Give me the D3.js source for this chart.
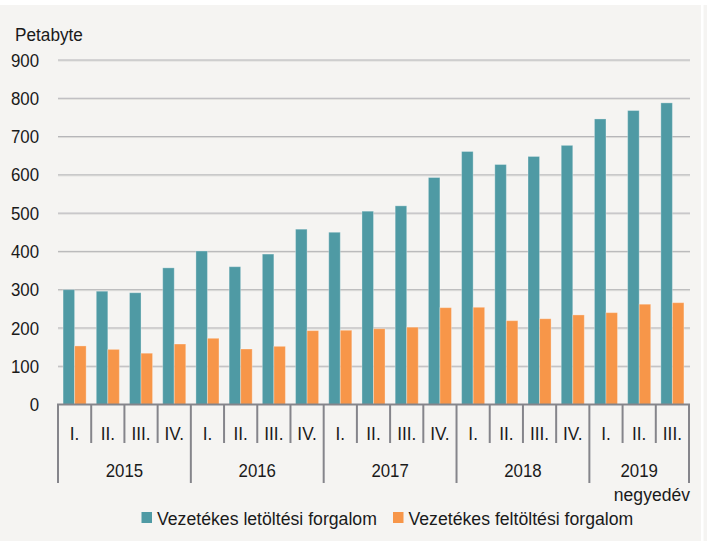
<!DOCTYPE html>
<html>
<head>
<meta charset="utf-8">
<script src="https://cdn.jsdelivr.net/npm/d3@7"></script>
<style>
  html, body { margin: 0; padding: 0; background: #fff; }
  svg { display: block; font-family: "Liberation Sans", Arial, sans-serif; }
</style>
</head>
<body>
<div id="chart"></div>
<script>
// data
var years = ['2015', '2016', '2017', '2018', '2019'];
var quarters = ['I.', 'II.', 'III.', 'IV.'];
var quarterCount = [4, 4, 4, 4, 3];
var download = [300, 296, 292, 357, 401, 360, 393, 458, 450, 505, 519, 593, 661, 627, 648, 677, 746, 768, 788];
var upload = [153, 144, 134, 158, 173, 145, 152, 193, 194, 198, 202, 253, 254, 219, 224, 234, 240, 262, 266];
var seriesNames = ['Vezetékes letöltési forgalom', 'Vezetékes feltöltési forgalom'];
var yTicks = [0, 100, 200, 300, 400, 500, 600, 700, 800, 900];

var colors = ['#4f9aa4', '#f79649'];

var W = 707, H = 541;
var plotL = 58, plotR = 689, plotT = 60, plotB = 404.5;
var FS = 18.5;

// categories: one per quarter
var cats = [];
years.forEach(function(yr, yi) {
  for (var q = 0; q < quarterCount[yi]; q++) cats.push({ year: yr, q: quarters[q], key: yr + '-' + q });
});

var svg = d3.select('#chart').append('svg')
  .attr('width', W)
  .attr('height', H);

svg.append('rect').attr('width', W).attr('height', H).attr('fill', '#f5f4f2');
svg.append('rect').attr('width', W).attr('height', 5).attr('fill', '#ffffff');
svg.append('rect').attr('x', 701).attr('y', 5).attr('width', 2.5).attr('height', H).attr('fill', '#ffffff');

// text is a bit narrow in the original, squeeze it horizontally
function label(parent, tx, ty, str, anchor, sx) {
  return parent.append('text')
    .attr('transform', 'translate(' + tx + ',' + ty + ') scale(' + sx + ',1)')
    .attr('text-anchor', anchor || 'start')
    .attr('font-size', FS).attr('fill', '#1a1a1a')
    .text(str);
}

var x = d3.scaleBand().domain(cats.map(function(d) { return d.key; })).range([plotL, plotR]);
var xs = d3.scaleBand().domain([0, 1]).range([0, x.bandwidth()]).paddingOuter(0.44);
var y = d3.scaleLinear().domain([0, 900]).range([plotB, plotT]);

// gridlines
var grid = svg.append('g');
yTicks.filter(function(t) { return t > 0; }).forEach(function(t) {
  grid.append('line').attr('x1', plotL).attr('x2', plotR + 1).attr('y1', y(t) + 1).attr('y2', y(t) + 1)
    .attr('stroke', '#dddcda').attr('stroke-width', 1);
  grid.append('line').attr('x1', plotL).attr('x2', plotR + 1).attr('y1', y(t)).attr('y2', y(t))
    .attr('stroke', '#b3b3b6').attr('stroke-width', 1);
});

// y tick labels
var yl = svg.append('g');
yTicks.forEach(function(t) {
  label(yl, 39, y(t) + 6.6, t, 'end', 0.91);
});

label(svg, 15, 40.5, 'Petabyte', 'start', 0.93);

// bars
var series = [download, upload];
series.forEach(function(vals, si) {
  svg.append('g').selectAll('rect').data(vals).enter().append('rect')
    .attr('x', function(d, i) { return x(cats[i].key) + xs(si); })
    .attr('y', function(d) { return y(d); })
    .attr('width', xs.bandwidth())
    .attr('height', function(d) { return y(0) - y(d); })
    .attr('fill', colors[si])
    .attr('stroke', 'rgba(255,255,255,0.3)')
    .attr('stroke-width', 1);
});

// category axis
var ax = svg.append('g').attr('stroke', '#85858b').attr('stroke-width', 2);
ax.append('line').attr('x1', plotL - 1).attr('x2', plotR + 1).attr('y1', plotB).attr('y2', plotB);

var yearStart = [];
var idx = 0;
quarterCount.forEach(function(n) { yearStart.push(idx); idx += n; });

cats.forEach(function(c, i) {
  var xx = x(c.key);
  var isYear = yearStart.indexOf(i) >= 0;
  ax.append('line').attr('x1', xx).attr('x2', xx).attr('y1', plotB).attr('y2', isYear ? 483 : 443);
});
ax.append('line').attr('x1', plotR).attr('x2', plotR).attr('y1', plotB).attr('y2', 483);

var ql = svg.append('g');
cats.forEach(function(c) {
  label(ql, x(c.key) + x.bandwidth() / 2, 439.5, c.q, 'middle', 0.93);
});

var yrl = svg.append('g');
years.forEach(function(yr, i) {
  var a = x(cats[yearStart[i]].key);
  var b = x(cats[yearStart[i] + quarterCount[i] - 1].key) + x.bandwidth();
  label(yrl, (a + b) / 2, 476.5, yr, 'middle', 0.91);
});

label(svg, 690, 501, 'negyedév', 'end', 0.95);

// legend
var legendX = [141.5, 393];
seriesNames.forEach(function(n, i) {
  var g = svg.append('g').attr('transform', 'translate(' + legendX[i] + ',0)');
  g.append('rect').attr('x', 0).attr('y', 512).attr('width', 10.5).attr('height', 11).attr('fill', colors[i]);
  label(g, 15.5, 524.5, n, 'start', 0.955);
});
</script>
</body>
</html>
